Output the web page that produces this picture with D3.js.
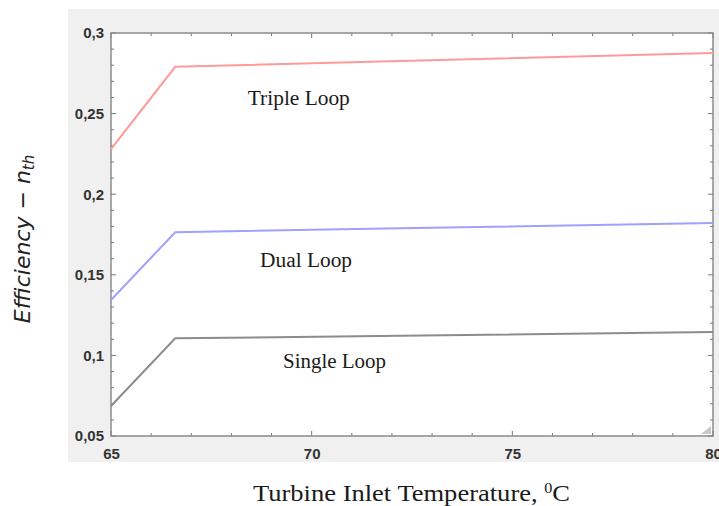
<!DOCTYPE html>
<html>
<head>
<meta charset="utf-8">
<script src="https://cdn.jsdelivr.net/npm/d3@7"></script>
<style>
  body { margin: 0; background: #fff; }
  .tick text { font-family: "Liberation Sans", Arial, sans-serif; font-weight: bold; font-size: 15px; fill: #333; }
  .lbl { font-family: "Liberation Serif", "Times New Roman", serif; fill: #1a1a1a; }
</style>
</head>
<body>
<div id="chart"></div>
<script>
// data
var temps   = [65, 66.6, 72.2, 80];
var triple  = [0.228, 0.279, 0.2826, 0.2876];
var dual    = [0.1344, 0.1764, 0.1789, 0.1821];
var single  = [0.0686, 0.1106, 0.1122, 0.1145];
var seriesNames = ["Triple Loop", "Dual Loop", "Single Loop"];
var seriesColors = ["#ff9a9a", "#a0a0ff", "#8c8c8c"];
var xTicks = [65, 70, 75, 80];
var yTicks = [0.05, 0.1, 0.15, 0.2, 0.25, 0.3];

var W = 719, H = 506;
var margin = {top: 33, right: 6, bottom: 70, left: 111};
var width = W - margin.left - margin.right,
    height = H - margin.top - margin.bottom;

var svg = d3.select("#chart").append("svg")
    .attr("width", W).attr("height", H);

// grey panel behind the plot
svg.append("rect")
    .attr("x", 68).attr("y", 9)
    .attr("width", W - 68).attr("height", 453)
    .attr("fill", "#f0f0f0");

var g = svg.append("g")
    .attr("transform", "translate(" + margin.left + "," + margin.top + ")");

var x = d3.scaleLinear().domain([65, 80]).range([0, width]);
var y = d3.scaleLinear().domain([0.05, 0.3]).range([height, 0]);

g.append("rect")
    .attr("width", width).attr("height", height)
    .attr("fill", "#fff");

var fmt = function(d) { return String(+d.toFixed(2)).replace(".", ","); };

// minor ticks on all four sides, pointing inward
var xMinor = d3.range(65, 80.01, 1);
var yMinor = d3.range(0.05, 0.3001, 0.01);
var tickCol = "#777";
g.append("g").selectAll("line").data(xMinor).join("line")
    .attr("x1", d => x(d)).attr("x2", d => x(d))
    .attr("y1", height).attr("y2", d => height - (d % 5 === 0 ? 5 : 3))
    .attr("stroke", tickCol);
g.append("g").selectAll("line").data(xMinor).join("line")
    .attr("x1", d => x(d)).attr("x2", d => x(d))
    .attr("y1", 0).attr("y2", d => (d % 5 === 0 ? 5 : 3))
    .attr("stroke", tickCol);
g.append("g").selectAll("line").data(yMinor).join("line")
    .attr("y1", d => y(d)).attr("y2", d => y(d))
    .attr("x1", 0).attr("x2", (d, i) => (i % 5 === 0 ? 5 : 3))
    .attr("stroke", tickCol);
g.append("g").selectAll("line").data(yMinor).join("line")
    .attr("y1", d => y(d)).attr("y2", d => y(d))
    .attr("x1", width).attr("x2", (d, i) => width - (i % 5 === 0 ? 5 : 3))
    .attr("stroke", tickCol);

// axes (labels only, frame drawn separately)
var xAxis = g.append("g")
    .attr("transform", "translate(0," + height + ")")
    .call(d3.axisBottom(x).tickValues(xTicks).tickFormat(d => d).tickSize(0).tickPadding(12));
xAxis.select(".domain").remove();

var yAxis = g.append("g")
    .call(d3.axisLeft(y).tickValues(yTicks).tickFormat(fmt).tickSize(0).tickPadding(7));
yAxis.select(".domain").remove();

// frame
g.append("rect")
    .attr("width", width).attr("height", height)
    .attr("fill", "none").attr("stroke", "#8a8a8a").attr("stroke-width", 1.5);

// resize grip in corner
g.append("path")
    .attr("d", "M" + (width - 12) + "," + (height - 2) + "L" + (width - 2) + "," + (height - 2) + "L" + (width - 2) + "," + (height - 10) + "Z")
    .attr("fill", "#c8c8c8");

// lines
var line = d3.line().x(d => x(d[0])).y(d => y(d[1]));
[triple, dual, single].forEach(function(vals, i) {
  g.append("path")
      .datum(temps.map((t, j) => [t, vals[j]]))
      .attr("d", line)
      .attr("fill", "none")
      .attr("stroke", seriesColors[i])
      .attr("stroke-width", 2);
});

// series labels (centre x, baseline y in data units)
var labelPos = [[69.68, 0.2553], [69.86, 0.1548], [70.57, 0.0922]];
var labelLen = [102, 92, 103];
seriesNames.forEach(function(n, i) {
  g.append("text").attr("class", "lbl")
      .attr("x", x(labelPos[i][0])).attr("y", y(labelPos[i][1]))
      .attr("text-anchor", "middle")
      .attr("font-size", 20)
      .attr("textLength", labelLen[i])
      .attr("lengthAdjust", "spacingAndGlyphs")
      .text(n);
});

// axis titles
var xt = svg.append("text").attr("class", "lbl")
    .attr("x", 253).attr("y", 501)
    .attr("font-size", 23)
    .attr("textLength", 317)
    .attr("lengthAdjust", "spacingAndGlyphs");
xt.append("tspan").text("Turbine Inlet Temperature, ");
xt.append("tspan").attr("font-size", 14).attr("dy", -8).text("0");
xt.append("tspan").attr("dy", 8).text("C");

var yt = svg.append("text")
    .attr("transform", "translate(30,239) rotate(-90)")
    .attr("text-anchor", "middle")
    .attr("font-family", "'DejaVu Sans', sans-serif")
    .attr("font-style", "italic")
    .attr("font-size", 22)
    .attr("fill", "#222");
yt.append("tspan").text("Efficiency \u2212 n");
yt.append("tspan").attr("font-size", 15).attr("dy", 4).text("th");
</script>
</body>
</html>
